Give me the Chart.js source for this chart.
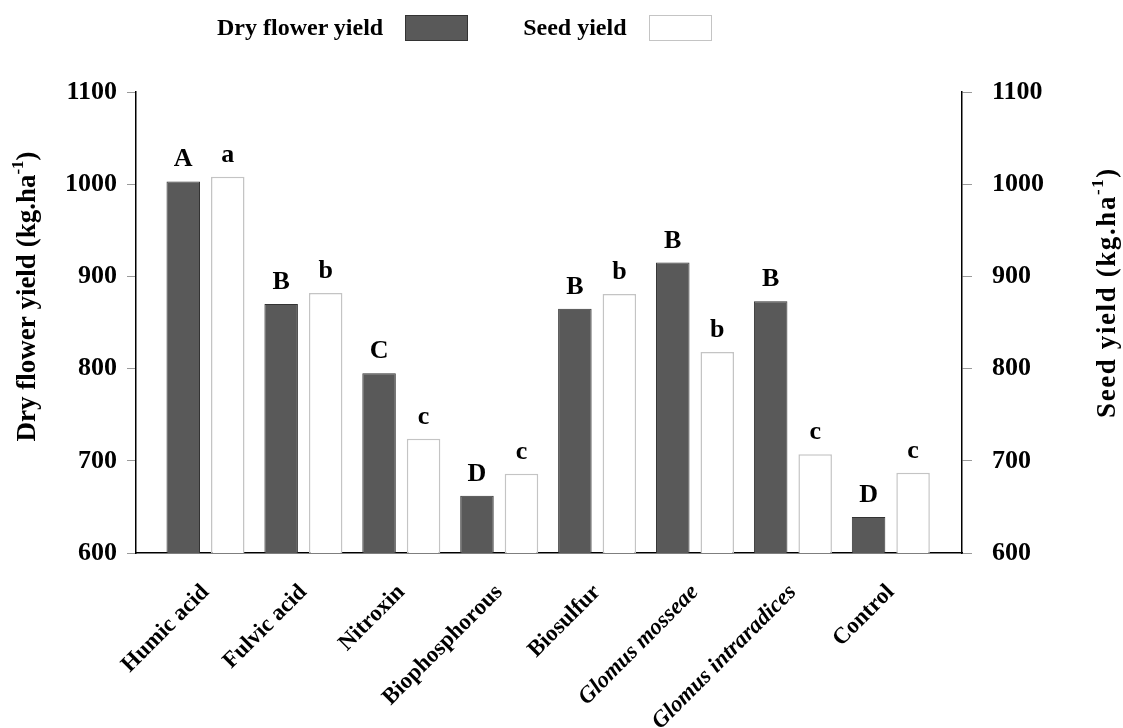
<!DOCTYPE html>
<html>
<head>
<meta charset="utf-8">
<script src="https://cdn.jsdelivr.net/npm/chart.js@4.4.0/dist/chart.umd.min.js"></script>
<style>
  html, body { margin: 0; padding: 0; background: #fff; }
  #wrap { position: relative; width: 1123px; height: 728px; }
  #legend { position: absolute; left: 217px; top: 14px; display: flex; align-items: center;
            font: bold 24px 'Liberation Serif', 'Times New Roman', serif; color: #000; }
  #legend .item { display: flex; align-items: center; margin-right: 55px; }
  #legend .box { width: 61px; height: 24px; margin-left: 22px; }
</style>
</head>
<body>
<div id="wrap">
  <canvas id="myChart" width="1123" height="728"></canvas>
  <div id="legend"></div>
</div>
<script>
const categories = ['Humic acid', 'Fulvic acid', 'Nitroxin', 'Biophosphorous', 'Biosulfur',
    'Glomus mosseae', 'Glomus intraradices', 'Control'];
const italicCategories = ['Glomus mosseae', 'Glomus intraradices'];
const dryFlowerYield = [1003, 870, 795, 662, 865, 915, 873, 639];
const seedYield = [1008, 882, 724, 686, 881, 818, 707, 687];
const dryLetters = ['A', 'B', 'C', 'D', 'B', 'B', 'B', 'D'];
const seedLetters = ['a', 'b', 'c', 'c', 'b', 'b', 'c', 'c'];
const yTicks = [600, 700, 800, 900, 1000, 1100];

const serif = "'Liberation Serif', 'Times New Roman', serif";

// letters of significance above each bar
const letterPlugin = {
    id: 'letters',
    afterDatasetsDraw(chart) {
        const ctx = chart.ctx;
        const sets = [dryLetters, seedLetters];
        ctx.save();
        ctx.font = 'bold 26px ' + serif;
        ctx.fillStyle = '#000';
        ctx.textAlign = 'center';
        ctx.textBaseline = 'alphabetic';
        chart.data.datasets.forEach((ds, i) => {
            chart.getDatasetMeta(i).data.forEach((bar, j) => {
                ctx.fillText(sets[i][j], bar.x, bar.y - 15);
            });
        });
        ctx.restore();
    }
};

// rotated axis titles (both read bottom to top) with a superscript
function drawTitle(ctx, x, y, main, sup, close, spacing) {
    ctx.save();
    ctx.translate(x, y);
    ctx.rotate(-Math.PI / 2);
    ctx.fillStyle = '#000';
    ctx.textBaseline = 'middle';
    ctx.textAlign = 'left';
    ctx.letterSpacing = spacing;
    ctx.font = 'bold 27px ' + serif;
    const w1 = ctx.measureText(main).width;
    const w3 = ctx.measureText(close).width;
    ctx.font = 'bold 17px ' + serif;
    const w2 = ctx.measureText(sup).width;
    let start = -(w1 + w2 + w3) / 2;
    ctx.font = 'bold 27px ' + serif;
    ctx.fillText(main, start, 0);
    ctx.font = 'bold 17px ' + serif;
    ctx.fillText(sup, start + w1, -9);
    ctx.font = 'bold 27px ' + serif;
    ctx.fillText(close, start + w1 + w2, 0);
    ctx.restore();
}

const titlePlugin = {
    id: 'titles',
    afterDraw(chart) {
        const area = chart.chartArea;
        const mid = (area.top + area.bottom) / 2;
        drawTitle(chart.ctx, 28, mid - 26, 'Dry flower yield (kg.ha', '-1', ')', '0px');
        drawTitle(chart.ctx, 1108, mid - 30, 'Seed yield (kg.ha', '-1', ')', '1.6px');
    }
};

const ctx = document.getElementById('myChart').getContext('2d');

const chart = new Chart(ctx, {
    type: 'bar',
    data: {
        labels: categories,
        datasets: [
            {
                label: 'Dry flower yield',
                data: dryFlowerYield,
                backgroundColor: '#595959',
                borderColor: '#333333',
                borderWidth: 1,
                yAxisID: 'y',
            },
            {
                label: 'Seed yield',
                data: seedYield,
                backgroundColor: '#ffffff',
                borderColor: '#c4c4c4',
                borderWidth: 1.5,
                yAxisID: 'y1',
            },
        ],
    },
    options: {
        responsive: false,
        animation: false,
        events: [],
        categoryPercentage: 0.909,
        barPercentage: 0.753,
        layout: { padding: { top: 92, left: 0, right: 0, bottom: 0 } },
        plugins: {
            legend: { display: false },
            tooltip: { enabled: false },
        },
        scales: {
            x: {
                type: 'category',
                position: 'bottom',
                grid: { display: false },
                border: { display: true, color: '#000', width: 1.5 },
                ticks: {
                    autoSkip: false,
                    minRotation: 45,
                    maxRotation: 45,
                    padding: 18,
                    color: '#000',
                    font: (c) => ({
                        family: serif,
                        size: 23,
                        weight: 'bold',
                        style: italicCategories.includes(categories[c.index]) ? 'italic' : 'normal',
                    }),
                },
                afterBuildTicks(scale) {
                    // bar groups sit a bit in from the edges
                    scale._startValue = -0.71;
                    scale._valueRange = 8.437;
                },
                afterFit(scale) { scale.height = 175; },
            },
            y: {
                position: 'left',
                min: 600,
                max: 1100,
                ticks: {
                    stepSize: 100,
                    padding: 10,
                    color: '#000',
                    font: { family: serif, size: 26, weight: 'bold' },
                    callback: (v) => String(v),
                },
                grid: { drawOnChartArea: false, tickLength: 9, color: '#9a9a9a', lineWidth: 1 },
                border: { color: '#000', width: 1.5 },
                afterBuildTicks(scale) { scale.ticks = yTicks.map(v => ({ value: v })); },
                afterFit(scale) { scale.width = 136; },
            },
            y1: {
                position: 'right',
                min: 600,
                max: 1100,
                ticks: {
                    stepSize: 100,
                    padding: 20,
                    color: '#000',
                    font: { family: serif, size: 26, weight: 'bold' },
                    callback: (v) => String(v),
                },
                grid: { drawOnChartArea: false, tickLength: 10, color: '#9a9a9a', lineWidth: 1 },
                border: { color: '#000', width: 1.5 },
                afterBuildTicks(scale) { scale.ticks = yTicks.map(v => ({ value: v })); },
                afterFit(scale) { scale.width = 161; },
            },
        },
    },
    plugins: [letterPlugin, titlePlugin],
});

// legend: text first, then the swatch
const legend = document.getElementById('legend');
chart.data.datasets.forEach(ds => {
    const item = document.createElement('div');
    item.className = 'item';
    const label = document.createElement('span');
    label.textContent = ds.label;
    const box = document.createElement('span');
    box.className = 'box';
    box.style.background = ds.backgroundColor;
    box.style.border = '1px solid ' + (ds.backgroundColor === '#ffffff' ? '#c4c4c4' : '#333');
    item.appendChild(label);
    item.appendChild(box);
    legend.appendChild(item);
});
</script>
</body>
</html>
